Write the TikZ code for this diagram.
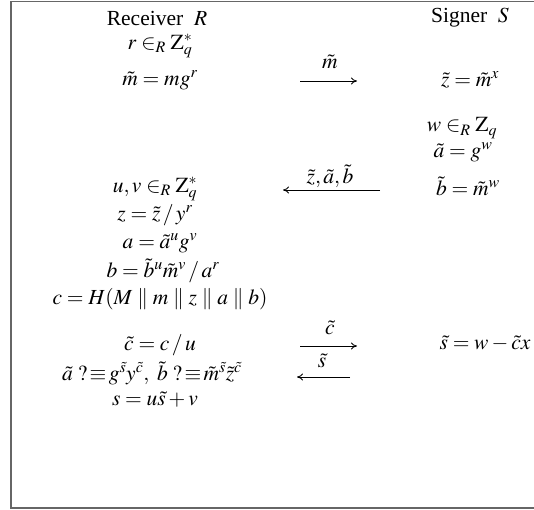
\documentclass[tikz,border=0pt]{standalone}
\usepackage{mathptmx}
\usepackage{fontspec}
\setmainfont{Liberation Serif}
\usetikzlibrary{arrows.meta}
\begin{document}
\begin{tikzpicture}[x=1pt,y=-1pt,
  txt/.style={inner sep=0pt, font=\fontsize{21.5}{24}\selectfont},
  lbl/.style={inner sep=0pt, font=\fontsize{21.5}{24}\selectfont},
  msg/.style={line width=0.8pt, -{To[length=6pt,width=7pt]}},
  frame/.style={draw=black!60, line width=1.2pt}]
\useasboundingbox (0,0) rectangle (534,509);
\draw[frame] (534,1.5) -- (11,1.5) -- (11,508) -- (534,508);
% headers
\node[txt] (hr) at (157,18) {Receiver\ \ $R$};
\node[txt] (hs) at (470,18) {Signer\ \ $S$};
% left column
\node[txt] (l1) at (160,46) {$r\in_R \mathrm{Z}_q^*$};
\node[txt] (l2) at (160,80) {$\tilde m = mg^r$};
\node[txt] (l3) at (155,189) {$u,v\in_R \mathrm{Z}_q^*$};
\node[txt] (l4) at (155,215) {$z=\tilde z\,/\,y^r$};
\node[txt] (l5) at (160,243) {$a=\tilde a^u g^v$};
\node[txt] (l6) at (163,271) {$b=\tilde b^u\tilde m^v\,/\,a^r$};
\node[txt] (l7) at (160,299) {$c=H(M\parallel m\parallel z\parallel a\parallel b)$};
\node[txt] (l8) at (160,345) {$\tilde c = c\,/\,u$};
\node[txt] (l9) at (152,373) {$\tilde a\;?\,{\equiv}\, g^{\tilde s}y^{\tilde c},\ \tilde b\;?\,{\equiv}\,\tilde m^{\tilde s}\tilde z^{\tilde c}$};
\node[txt] (l10) at (155,400) {$s=u\tilde s+v$};
% right column
\node[txt] (r1) at (470,80) {$\tilde z=\tilde m^x$};
\node[txt] (r2) at (462,128) {$w\in_R \mathrm{Z}_q$};
\node[txt] (r3) at (463,152) {$\tilde a = g^w$};
\node[txt] (r4) at (468,186) {$\tilde b=\tilde m^w$};
\node[txt] (r5) at (485,344) {$\tilde s = w-\tilde c x$};
% messages
\coordinate (a1s) at (300,81); \coordinate (a1e) at (357,81);
\draw[msg] (a1s) -- (a1e);
\node[lbl] (m1) at (330,62) {$\tilde m$};
\coordinate (a2s) at (380,190); \coordinate (a2e) at (283,190);
\draw[msg] (a2s) -- (a2e);
\node[lbl] (m2) at (330,176) {$\tilde z,\tilde a,\tilde b$};
\coordinate (a3s) at (300,346); \coordinate (a3e) at (357,346);
\draw[msg] (a3s) -- (a3e);
\node[lbl] (m3) at (330,328) {$\tilde c$};
\coordinate (a4s) at (350,377); \coordinate (a4e) at (297,377);
\draw[msg] (a4s) -- (a4e);
\node[lbl] (m4) at (322,361) {$\tilde s$};
\end{tikzpicture}
\end{document}
